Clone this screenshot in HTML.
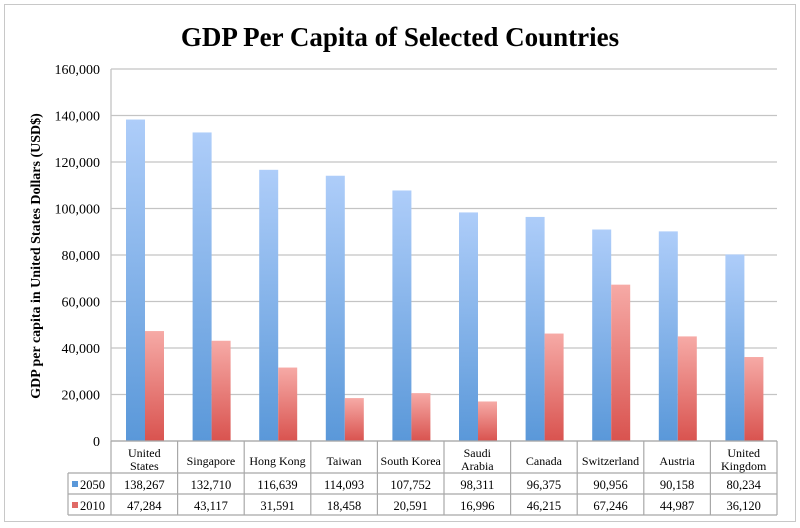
<!DOCTYPE html>
<html><head><meta charset="utf-8"><style>
body{margin:0;background:#fff;}
svg{display:block;font-family:"Liberation Serif",serif;}
</style></head><body>
<svg id="c" width="800" height="528" xmlns="http://www.w3.org/2000/svg">
<defs>
<linearGradient id="gb" x1="0" y1="0" x2="0" y2="1"><stop offset="0" stop-color="#aecdf9"/><stop offset="1" stop-color="#5a98d9"/></linearGradient>
<linearGradient id="gr" x1="0" y1="0" x2="0" y2="1"><stop offset="0" stop-color="#f6aaa6"/><stop offset="1" stop-color="#d9534f"/></linearGradient>
</defs>
<rect x="4.5" y="4.5" width="791" height="517" fill="#fff" stroke="#c8c8c8"/>
<text x="400" y="46" text-anchor="middle" font-size="27" font-weight="bold">GDP Per Capita of Selected Countries</text>
<text transform="translate(40,256) rotate(-90)" text-anchor="middle" font-size="14" font-weight="bold">GDP per capita in  United States Dollars (USD$)</text>
<g id="g"></g>
</svg>
<script>
const categories=[["United","States"],["Singapore"],["Hong Kong"],["Taiwan"],["South Korea"],["Saudi","Arabia"],["Canada"],["Switzerland"],["Austria"],["United","Kingdom"]];
const values2050=[138267,132710,116639,114093,107752,98311,96375,90956,90158,80234];
const values2010=[47284,43117,31591,18458,20591,16996,46215,67246,44987,36120];
const yTicks=[0,20000,40000,60000,80000,100000,120000,140000,160000];
const seriesNames=["2050","2010"];
const NS="http://www.w3.org/2000/svg";
const g=document.getElementById('g');
const L=111,R=777,T=69,B=441,yMax=160000;
const cw=(R-L)/categories.length;
const y=v=>B-(v/yMax)*(B-T);
const x=i=>L+i*cw;
function mk(t,a,txt){const e=document.createElementNS(NS,t);for(const k in a)e.setAttribute(k,a[k]);if(txt!==undefined)e.textContent=txt;g.appendChild(e);return e;}
const fmt=v=>v.toLocaleString('en-US');
yTicks.forEach(v=>{
 const ln=mk('line',{x1:L,x2:R,y1:y(v),y2:y(v),stroke:'#c4c4c4','stroke-width':1.3});
 
 
 const t=mk('text',{x:L-11,y:y(v)+5,'text-anchor':'end','font-size':14},fmt(v));
 
 
});
mk('line',{x1:L,x2:L,y1:T,y2:B,stroke:'#c4c4c4','stroke-width':1.3});
const bw=19;
categories.forEach((c,i)=>{
 const b1=mk('rect',{x:x(i)+15,y:y(values2050[i]),width:bw,height:B-y(values2050[i]),fill:'url(#gb)'});
 
 
 const b2=mk('rect',{x:x(i)+15+bw,y:y(values2010[i]),width:bw,height:B-y(values2010[i]),fill:'url(#gr)'});
 
 
});
// table
const r0=441,r1=473,r2=494,r3=515,LL=68;
const st={stroke:'#a8a8a8','stroke-width':1.2,fill:'none'};
[[L,r0,R,r0],[LL,r1,R,r1],[LL,r2,R,r2],[LL,r3,R,r3],[LL,r1,LL,r3]].forEach(a=>mk('line',Object.assign({x1:a[0],y1:a[1],x2:a[2],y2:a[3]},st)));
for(let i=0;i<=categories.length;i++)mk('line',Object.assign({x1:x(i),y1:r0,x2:x(i),y2:r3},st));
categories.forEach((c,i)=>{
 const cx=x(i)+cw/2;
 if(c.length===1){const t=mk('text',{x:cx,y:465,'text-anchor':'middle','font-size':12},c[0]);}
 else c.forEach((s,k)=>{const t=mk('text',{x:cx,y:457+k*13,'text-anchor':'middle','font-size':12},s);});
 const a=mk('text',{x:cx,y:489,'text-anchor':'middle','font-size':12.5},fmt(values2050[i]));
 
 
 const b=mk('text',{x:cx,y:510,'text-anchor':'middle','font-size':12.5},fmt(values2010[i]));
 
 
});
[['#5a98d9',r1],['#e06a66',r2]].forEach((s,k)=>{
 mk('rect',{x:72,y:s[1]+8,width:6,height:6,fill:s[0]});
 const t=mk('text',{x:80,y:s[1]+16,'font-size':12.5},seriesNames[k]);
 
 
});
</script>
</body></html>
